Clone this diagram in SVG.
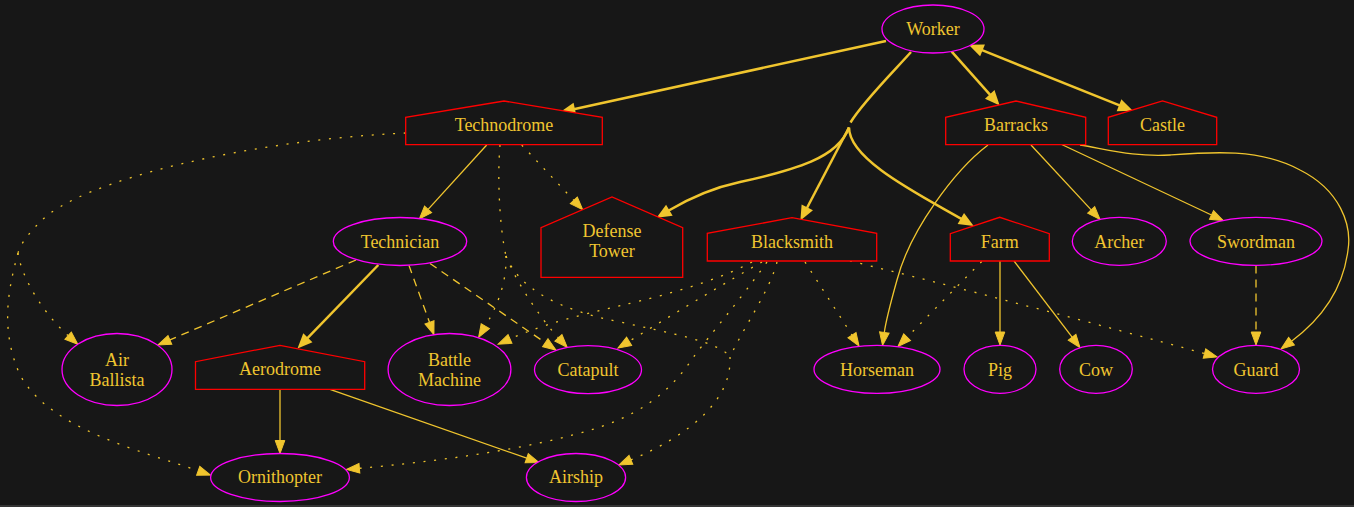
<svg xmlns="http://www.w3.org/2000/svg" width="1354" height="507" viewBox="0 0 1354 507">
<style>
.bg{fill:#171717}
.e{fill:none;stroke:#f0c52e;stroke-width:1.3}
.b{stroke-width:2.5}
.dot{stroke-dasharray:2,8.7}
.dash{stroke-dasharray:8,6}
.ell{fill:#171717;stroke:#ff00ff;stroke-width:1.3}
.house{fill:#171717;stroke:#ff0000;stroke-width:1.3}
text{font-family:"Liberation Serif","Times New Roman",serif;font-size:18px;fill:#f0c530;text-anchor:middle}
</style>
<defs>
<marker id="a" markerUnits="userSpaceOnUse" markerWidth="16" markerHeight="14" refX="0" refY="0" orient="auto" overflow="visible"><path d="M0,-4.8L13,0L0,4.8Z" fill="#f0c52e" stroke="#f0c52e" stroke-width="1"/></marker>
<marker id="ab" markerUnits="userSpaceOnUse" markerWidth="16" markerHeight="14" refX="0" refY="0" orient="auto" overflow="visible"><path d="M0,-4.5L10.5,0L0,4.5Z" fill="#f0c52e" stroke="#f0c52e" stroke-width="2.5"/></marker>
<marker id="abs" markerUnits="userSpaceOnUse" markerWidth="16" markerHeight="14" refX="0" refY="0" orient="auto-start-reverse" overflow="visible"><path d="M0,-4.5L10.5,0L0,4.5Z" fill="#f0c52e" stroke="#f0c52e" stroke-width="2.5"/></marker>
</defs>
<rect class="bg" x="0" y="0" width="1354" height="507"/>
<rect x="0" y="505" width="1354" height="2" fill="#343434"/>
<g id="edges">
<path class="e b" d="M886,41 L573.7,109.2" marker-end="url(#ab)"/>
<path class="e b" d="M911,52 C895,70 862,103 850.5,122.5"/>
<path class="e b" d="M849,127.5 L806.7,208.5" marker-end="url(#ab)"/>
<path class="e b" d="M849,127.5 C849,160 920,195 961.9,219.2" marker-end="url(#ab)"/>
<path class="e b" d="M849,127.5 C838,158 795,170 740,182 C712,188 688,199 668.3,210.8" marker-end="url(#ab)"/>
<path class="e b" d="M951.7,51.7 L990.6,95.3" marker-end="url(#ab)"/>
<path class="e b" d="M981.4,49.9 L1120.2,105.7" marker-start="url(#abs)" marker-end="url(#abs)"/>
<path class="e" d="M486.7,145 L428.1,209.4" marker-end="url(#a)"/>
<path class="e dot" d="M405.7,133 C250,140 80,180 40,222 C28,234 20,245 18,253"/>
<path class="e dot" d="M18,253 C8,290 0,330 20,375 C50,430 145,452 198.2,470.8" marker-end="url(#a)"/>
<path class="e dot" d="M18,253 C22,280 45,315 68.1,335.6" marker-end="url(#a)"/>
<path class="e dot" d="M521.7,145 L573.8,200.3" marker-end="url(#a)"/>
<path class="e dot" d="M500,145 C497,180 500,230 506,256"/>
<path class="e dot" d="M506,256 C507,285 495,310 485.3,326.2" marker-end="url(#a)"/>
<path class="e dot" d="M506,256 C515,280 540,318 558.4,337.8" marker-end="url(#a)"/>
<path class="e dot" d="M506,256 C520,290 560,310 620,322 C670,333 720,342 730,357"/>
<path class="e dot" d="M777,262 C770,290 745,325 730,357"/>
<path class="e dot" d="M730,357 C732,400 690,435 630.9,459.9" marker-end="url(#a)"/>
<path class="e dot" d="M752,262 C700,290 620,305 590,313 C560,320 530,330 510,338.9" marker-end="url(#a)"/>
<path class="e dot" d="M762,262 C730,280 680,310 629.1,341.3" marker-end="url(#a)"/>
<path class="e dot" d="M767,262 C740,300 710,335 695,355 C675,385 650,410 600,427 C530,450 430,462 359.4,468.3" marker-end="url(#a)"/>
<path class="e dot" d="M805,262 L852,335.1" marker-end="url(#a)"/>
<path class="e dot" d="M850,261 C950,285 1100,325 1204.5,353.5" marker-end="url(#a)"/>
<path class="e dot" d="M981.7,261.5 L907.1,337.2" marker-end="url(#a)"/>
<path class="e" d="M1000,261 L1000,332" marker-end="url(#a)"/>
<path class="e" d="M1014,261 L1072.1,337.2" marker-end="url(#a)"/>
<path class="e dash" d="M1256,265.5 L1256,332" marker-end="url(#a)"/>
<path class="e" d="M988,145 C955,170 910,230 897,280 C890,305 886,320 884.3,332.5" marker-end="url(#a)"/>
<path class="e" d="M1031,145 L1091.2,209.9" marker-end="url(#a)"/>
<path class="e" d="M1061.7,144.5 L1211.5,215" marker-end="url(#a)"/>
<path class="e" d="M1080,145 C1110,150 1135,157 1170,155 C1210,152 1260,148 1300,170 C1340,190 1352,225 1348,250 C1343,290 1320,320 1291.5,341.2" marker-end="url(#a)"/>
<path class="e dash" d="M356,260 L169.9,339.9" marker-end="url(#a)"/>
<path class="e b" d="M378.3,265 L307,338.6" marker-end="url(#ab)"/>
<path class="e dash" d="M409,265.5 L429.5,322.3" marker-end="url(#a)"/>
<path class="e dash" d="M430,263.5 L545.3,342.7" marker-end="url(#a)"/>
<path class="e" d="M280,389.3 L280,440.5" marker-end="url(#a)"/>
<path class="e" d="M330,389.3 L526.7,458.2" marker-end="url(#a)"/>
</g>
<g id="worker"><ellipse class="ell" cx="933" cy="29" rx="51" ry="24"/><text x="933" y="35">Worker</text></g>
<g id="technodrome"><polygon class="house" points="405.7,144.7 405.7,117.3 504,101 602.3,117.3 602.3,144.7"/><text x="504" y="130.5">Technodrome</text></g>
<g id="barracks"><polygon class="house" points="945.7,144.7 945.7,117.3 1016,101 1085.7,117.3 1085.7,144.7"/><text x="1016" y="130.5">Barracks</text></g>
<g id="castle"><polygon class="house" points="1108.3,144.7 1108.3,117.3 1162.5,101 1216.7,117.3 1216.7,144.7"/><text x="1162.5" y="130.5">Castle</text></g>
<g id="technician"><ellipse class="ell" cx="400" cy="241.5" rx="66.7" ry="24"/><text x="400" y="247.5">Technician</text></g>
<g id="defense-tower"><polygon class="house" points="541,277.3 541,227.7 612,197 682.7,227.7 682.7,277.3"/><text x="612" y="237">Defense</text><text x="612" y="257">Tower</text></g>
<g id="blacksmith"><polygon class="house" points="707.3,261 707.3,233.3 792,217.7 876.7,233.3 876.7,261"/><text x="792" y="247.5">Blacksmith</text></g>
<g id="farm"><polygon class="house" points="950.3,261 950.3,233.7 999.7,217.3 1049.3,233.7 1049.3,261"/><text x="999.7" y="247.5">Farm</text></g>
<g id="archer"><ellipse class="ell" cx="1119.3" cy="241.3" rx="47" ry="24"/><text x="1119.3" y="247.5">Archer</text></g>
<g id="swordman"><ellipse class="ell" cx="1256" cy="241.3" rx="66" ry="24"/><text x="1256" y="247.5">Swordman</text></g>
<g id="air-ballista"><ellipse class="ell" cx="117" cy="369.5" rx="55" ry="36"/><text x="117" y="365.7">Air</text><text x="117" y="385.7">Ballista</text></g>
<g id="aerodrome"><polygon class="house" points="195.5,389.3 195.5,361.7 280,345.3 364.7,361.7 364.7,389.3"/><text x="280" y="375">Aerodrome</text></g>
<g id="battle-machine"><ellipse class="ell" cx="449.5" cy="369.5" rx="61.4" ry="36"/><text x="449.5" y="365.7">Battle</text><text x="449.5" y="385.7">Machine</text></g>
<g id="catapult"><ellipse class="ell" cx="588" cy="369.7" rx="53.5" ry="24"/><text x="588" y="375.5">Catapult</text></g>
<g id="horseman"><ellipse class="ell" cx="877" cy="369.3" rx="63" ry="24"/><text x="877" y="375.5">Horseman</text></g>
<g id="pig"><ellipse class="ell" cx="1000" cy="369.3" rx="36" ry="24"/><text x="1000" y="375.5">Pig</text></g>
<g id="cow"><ellipse class="ell" cx="1096" cy="369.3" rx="36.3" ry="24"/><text x="1096" y="375.5">Cow</text></g>
<g id="guard"><ellipse class="ell" cx="1256" cy="369.3" rx="43.5" ry="24"/><text x="1256" y="375.5">Guard</text></g>
<g id="ornithopter"><ellipse class="ell" cx="280" cy="477.5" rx="69.4" ry="24"/><text x="280" y="482.5">Ornithopter</text></g>
<g id="airship"><ellipse class="ell" cx="576" cy="477.5" rx="49.6" ry="24"/><text x="576" y="482.5">Airship</text></g>
</svg>
